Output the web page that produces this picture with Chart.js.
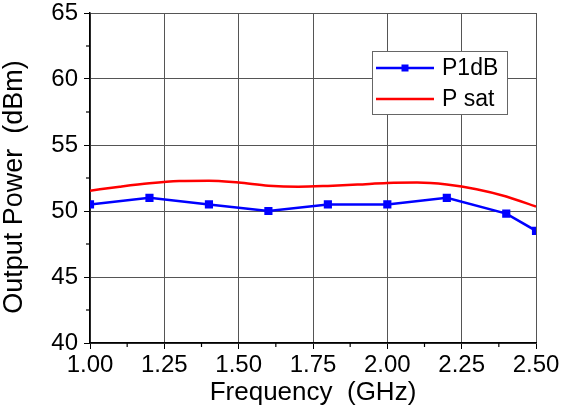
<!DOCTYPE html>
<html>
<head>
<meta charset="utf-8">
<script src="https://cdn.jsdelivr.net/npm/chart.js@4.4.0/dist/chart.umd.min.js"></script>
<style>
  html, body { margin: 0; padding: 0; background: #fff; }
  #wrap { width: 564px; height: 410px; }
</style>
</head>
<body>
<div id="wrap"><canvas id="chart" width="564" height="410"></canvas></div>
<script>
// data
const freqP1dB = [1.0, 1.2, 1.4, 1.6, 1.8, 2.0, 2.2, 2.4, 2.5];
const p1dB     = [50.5, 51.0, 50.5, 50.0, 50.5, 50.5, 51.0, 49.8, 48.5];
const freqPsat = [1.0, 1.1, 1.2, 1.3, 1.4, 1.5, 1.6, 1.7, 1.8, 1.9, 2.0, 2.1, 2.2, 2.3, 2.4, 2.5];
const psat     = [51.54, 51.84, 52.1, 52.27, 52.3, 52.15, 51.92, 51.84, 51.9, 52.0, 52.12, 52.15, 52.0, 51.65, 51.1, 50.33];
const seriesNames = ['P1dB', 'P sat'];
const xTitle = 'Frequency  (GHz)';
const yTitle = 'Output Power  (dBm)';

const FONT = 'Liberation Sans, Arial, sans-serif';

// minor ticks, y title and legend box inside the plot
const extras = {
  id: 'extras',
  afterDraw(chart) {
    const c = chart.ctx, xs = chart.scales.x, ys = chart.scales.y, a = chart.chartArea;
    c.save();
    c.strokeStyle = '#000';
    c.lineWidth = 1.2;
    for (let v = 1.125; v < 2.5; v += 0.25) {
      const px = xs.getPixelForValue(v);
      c.beginPath(); c.moveTo(px, a.bottom); c.lineTo(px, a.bottom + 4); c.stroke();
    }
    for (let v = 42.5; v < 65; v += 5) {
      const py = ys.getPixelForValue(v);
      c.beginPath(); c.moveTo(a.left, py); c.lineTo(a.left - 4, py); c.stroke();
    }
    // y title
    c.save();
    c.translate(15, 187);
    c.rotate(-Math.PI / 2);
    c.fillStyle = '#000';
    c.font = '27px ' + FONT;
    c.textAlign = 'center';
    c.textBaseline = 'middle';
    c.fillText(yTitle, 0, 0);
    c.restore();
    // legend
    const bx = 372, by = 51, bw = 135, bh = 63;
    c.fillStyle = '#fff';
    c.fillRect(bx, by, bw, bh);
    c.strokeStyle = '#666';
    c.lineWidth = 1;
    c.strokeRect(bx + 0.5, by + 0.5, bw, bh);
    const rows = [68, 99];
    chart.data.datasets.forEach((ds, i) => {
      const y = rows[i];
      c.strokeStyle = ds.borderColor;
      c.lineWidth = 2.5;
      c.beginPath(); c.moveTo(376, y); c.lineTo(434, y); c.stroke();
      if (ds.pointRadius > 0) {
        c.fillStyle = ds.borderColor;
        c.fillRect(405 - 3.5, y - 3.5, 7, 7);
      }
      c.fillStyle = '#000';
      c.font = '23px ' + FONT;
      c.textAlign = 'left';
      c.textBaseline = 'middle';
      c.fillText(ds.label, 442, y + 1);
    });
    c.restore();
  }
};

new Chart(document.getElementById('chart'), {
  type: 'line',
  data: {
    datasets: [
      {
        label: seriesNames[0],
        data: freqP1dB.map((f, i) => ({ x: f, y: p1dB[i] })),
        borderColor: '#0000ff',
        backgroundColor: '#0000ff',
        borderWidth: 2.5,
        pointStyle: 'rect',
        pointRadius: 4,
        tension: 0,
        fill: false
      },
      {
        label: seriesNames[1],
        data: freqPsat.map((f, i) => ({ x: f, y: psat[i] })),
        borderColor: '#ff0000',
        backgroundColor: '#ff0000',
        borderWidth: 2.5,
        pointRadius: 0,
        tension: 0.4,
        cubicInterpolationMode: 'monotone',
        fill: false
      }
    ]
  },
  options: {
    responsive: false,
    animation: false,
    layout: { padding: { top: 13, right: 28, left: 0, bottom: 0 } },
    plugins: { legend: { display: false }, tooltip: { enabled: false } },
    scales: {
      x: {
        type: 'linear',
        min: 1, max: 2.5,
        afterFit(s) { s.height = 67; s.paddingLeft = 0; s.paddingRight = 0; },
        ticks: {
          stepSize: 0.25,
          color: '#000',
          font: { family: FONT, size: 24 },
          padding: 2,
          maxRotation: 0,
          callback: v => v.toFixed(2)
        },
        grid: { color: '#555', lineWidth: 1, tickLength: 6, tickColor: '#000' },
        border: { color: '#000', width: 1.5 },
        title: { display: true, text: xTitle, color: '#000', font: { family: FONT, size: 26 }, padding: { top: 0, bottom: 2 } }
      },
      y: {
        min: 40, max: 65,
        afterFit(s) { s.width = 90; s.paddingTop = 0; s.paddingBottom = 0; },
        ticks: {
          stepSize: 5,
          color: '#000',
          font: { family: FONT, size: 24 },
          padding: 6
        },
        grid: { color: '#555', lineWidth: 1, tickLength: 6, tickColor: '#000' },
        border: { color: '#000', width: 1.5 }
      }
    }
  },
  plugins: [extras]
});
</script>
</body>
</html>
